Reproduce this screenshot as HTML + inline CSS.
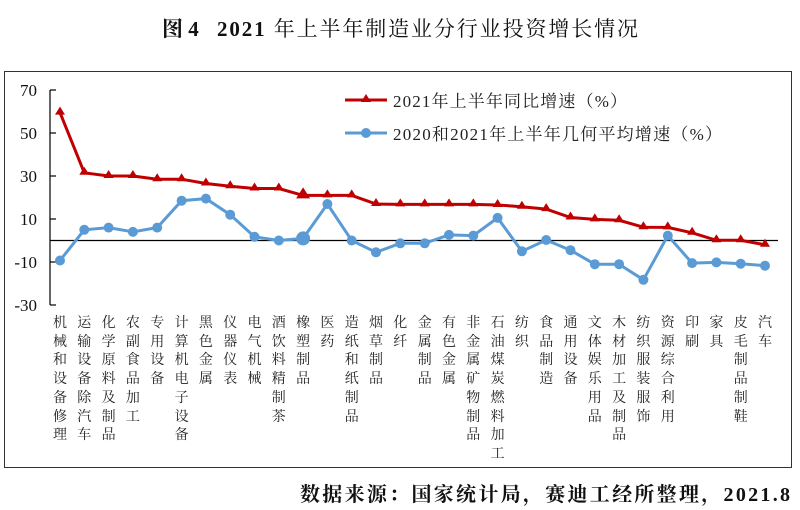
<!DOCTYPE html>
<html><head><meta charset="utf-8"><style>
body{margin:0;background:#fff;width:800px;height:510px;overflow:hidden;position:relative;font-family:"Liberation Serif","Noto Serif CJK SC",serif}
.box{position:absolute;left:4px;top:71px;width:786px;height:395px;border:1.5px solid #333}
.lab{position:absolute;top:315px;width:16px;font-size:14px;line-height:18.7px;word-break:break-all;text-align:center;color:#222}
</style></head><body>
<div class="box"></div>
<svg width="800" height="510" style="position:absolute;left:0;top:0" font-family="Liberation Serif,Noto Serif CJK SC,serif">
<text x="162" y="36" font-size="21" font-weight="bold" fill="#111">图 4</text>
<text x="217" y="36" font-size="21" fill="#111" textLength="421" lengthAdjust="spacing"><tspan font-weight="bold">2021</tspan> 年上半年制造业分行业投资增长情况</text>
<g stroke="#000" stroke-width="1.2" fill="none">
<line x1="50" y1="90" x2="50" y2="305"/>
<line x1="50" y1="90" x2="56" y2="90"/><line x1="50" y1="133" x2="56" y2="133"/><line x1="50" y1="176" x2="56" y2="176"/><line x1="50" y1="219" x2="56" y2="219"/><line x1="50" y1="262" x2="56" y2="262"/><line x1="50" y1="305" x2="56" y2="305"/>
<line x1="50" y1="240.5" x2="778" y2="240.5"/>
</g>
<g font-size="17" text-anchor="end" fill="#111">
<text x="37" y="96">70</text><text x="37" y="139">50</text><text x="37" y="182">30</text><text x="37" y="225">10</text><text x="37" y="268">-10</text><text x="37" y="311">-30</text>
</g>
<polyline fill="none" stroke="#5b9bd5" stroke-width="3" points="60,260.5 84.3,229.8 108.6,227.6 132.9,231.9 157.2,227.6 181.6,200.7 205.9,198.6 230.2,214.7 254.5,236.8 278.8,240.5 303.1,238.4 327.4,204 351.7,240.5 376,252.3 400.3,243.3 424.7,243.3 449,234.9 473.3,235.6 497.6,217.9 521.9,251.3 546.2,240 570.5,250.2 594.8,264.2 619.1,264.2 643.4,279.8 667.8,235.6 692.1,263.1 716.4,262.4 740.7,263.7 765,265.7"/>
<g fill="#5b9bd5">
<circle cx="60" cy="260.5" r="5"/><circle cx="84.3" cy="229.8" r="5"/><circle cx="108.6" cy="227.6" r="5"/><circle cx="132.9" cy="231.9" r="5"/><circle cx="157.2" cy="227.6" r="5"/><circle cx="181.6" cy="200.7" r="5"/><circle cx="205.9" cy="198.6" r="5"/><circle cx="230.2" cy="214.7" r="5"/><circle cx="254.5" cy="236.8" r="5"/><circle cx="278.8" cy="240.5" r="5"/><circle cx="303.1" cy="238.4" r="7"/><circle cx="327.4" cy="204" r="5"/><circle cx="351.7" cy="240.5" r="5"/><circle cx="376" cy="252.3" r="5"/><circle cx="400.3" cy="243.3" r="5"/><circle cx="424.7" cy="243.3" r="5"/><circle cx="449" cy="234.9" r="5"/><circle cx="473.3" cy="235.6" r="5"/><circle cx="497.6" cy="217.9" r="5"/><circle cx="521.9" cy="251.3" r="5"/><circle cx="546.2" cy="240" r="5"/><circle cx="570.5" cy="250.2" r="5"/><circle cx="594.8" cy="264.2" r="5"/><circle cx="619.1" cy="264.2" r="5"/><circle cx="643.4" cy="279.8" r="5"/><circle cx="667.8" cy="235.6" r="5"/><circle cx="692.1" cy="263.1" r="5"/><circle cx="716.4" cy="262.4" r="5"/><circle cx="740.7" cy="263.7" r="5"/><circle cx="765" cy="265.7" r="5"/>
</g>
<polyline fill="none" stroke="#c00000" stroke-width="3" points="60,112.6 84.3,172.8 108.6,176 132.9,176 157.2,179.2 181.6,179.2 205.9,183.5 230.2,186.3 254.5,188.5 278.8,188.5 303.1,195.4 327.4,195.4 351.7,195.4 376,204 400.3,204.4 424.7,204.4 449,204.4 473.3,204.4 497.6,205 521.9,206.7 546.2,209.1 570.5,217.5 594.8,219.4 619.1,220.3 643.4,227.2 667.8,227.4 692.1,232.8 716.4,240.3 740.7,240.3 765,244.8"/>
<g fill="#c00000">
<path d="M60,106.6l5,8h-10z M84.3,166.8l5,8h-10z M108.6,170l5,8h-10z M132.9,170l5,8h-10z M157.2,173.2l5,8h-10z M181.6,173.2l5,8h-10z M205.9,177.5l5,8h-10z M230.2,180.3l5,8h-10z M254.5,182.5l5,8h-10z M278.8,182.5l5,8h-10z M303.1,187.4l7,11h-14z M327.4,189.4l5,8h-10z M351.7,189.4l5,8h-10z M376,198l5,8h-10z M400.3,198.4l5,8h-10z M424.7,198.4l5,8h-10z M449,198.4l5,8h-10z M473.3,198.4l5,8h-10z M497.6,199l5,8h-10z M521.9,200.7l5,8h-10z M546.2,203.1l5,8h-10z M570.5,211.5l5,8h-10z M594.8,213.4l5,8h-10z M619.1,214.3l5,8h-10z M643.4,221.2l5,8h-10z M667.8,221.4l5,8h-10z M692.1,226.8l5,8h-10z M716.4,234.3l5,8h-10z M740.7,234.3l5,8h-10z M765,238.8l5,8h-10z"/>
</g>
<line x1="345" y1="100" x2="387" y2="100" stroke="#c00000" stroke-width="3"/>
<path d="M366,94l5,8h-10z" fill="#c00000"/>
<text x="393" y="107" font-size="17" fill="#222" textLength="234" lengthAdjust="spacing">2021年上半年同比增速（%）</text>
<line x1="345" y1="133" x2="387" y2="133" stroke="#5b9bd5" stroke-width="3"/>
<circle cx="366" cy="133" r="5" fill="#5b9bd5"/>
<text x="393" y="140" font-size="17" fill="#222" textLength="329" lengthAdjust="spacing">2020和2021年上半年几何平均增速（%）</text>
<text x="300" y="501" font-size="20" font-weight="bold" fill="#111" textLength="490" lengthAdjust="spacing">数据来源：国家统计局，赛迪工经所整理，2021.8</text>
</svg>
<div class="lab" style="left:52px">机械和设备修理</div>
<div class="lab" style="left:76.3px">运输设备除汽车</div>
<div class="lab" style="left:100.6px">化学原料及制品</div>
<div class="lab" style="left:124.9px">农副食品加工</div>
<div class="lab" style="left:149.2px">专用设备</div>
<div class="lab" style="left:173.6px">计算机电子设备</div>
<div class="lab" style="left:197.9px">黑色金属</div>
<div class="lab" style="left:222.2px">仪器仪表</div>
<div class="lab" style="left:246.5px">电气机械</div>
<div class="lab" style="left:270.8px">酒饮料精制茶</div>
<div class="lab" style="left:295.1px">橡塑制品</div>
<div class="lab" style="left:319.4px">医药</div>
<div class="lab" style="left:343.7px">造纸和纸制品</div>
<div class="lab" style="left:368px">烟草制品</div>
<div class="lab" style="left:392.3px">化纤</div>
<div class="lab" style="left:416.7px">金属制品</div>
<div class="lab" style="left:441px">有色金属</div>
<div class="lab" style="left:465.3px">非金属矿物制品</div>
<div class="lab" style="left:489.6px">石油煤炭燃料加工</div>
<div class="lab" style="left:513.9px">纺织</div>
<div class="lab" style="left:538.2px">食品制造</div>
<div class="lab" style="left:562.5px">通用设备</div>
<div class="lab" style="left:586.8px">文体娱乐用品</div>
<div class="lab" style="left:611.1px">木材加工及制品</div>
<div class="lab" style="left:635.4px">纺织服装服饰</div>
<div class="lab" style="left:659.8px">资源综合利用</div>
<div class="lab" style="left:684.1px">印刷</div>
<div class="lab" style="left:708.4px">家具</div>
<div class="lab" style="left:732.7px">皮毛制品制鞋</div>
<div class="lab" style="left:757px">汽车</div>
</body></html>
